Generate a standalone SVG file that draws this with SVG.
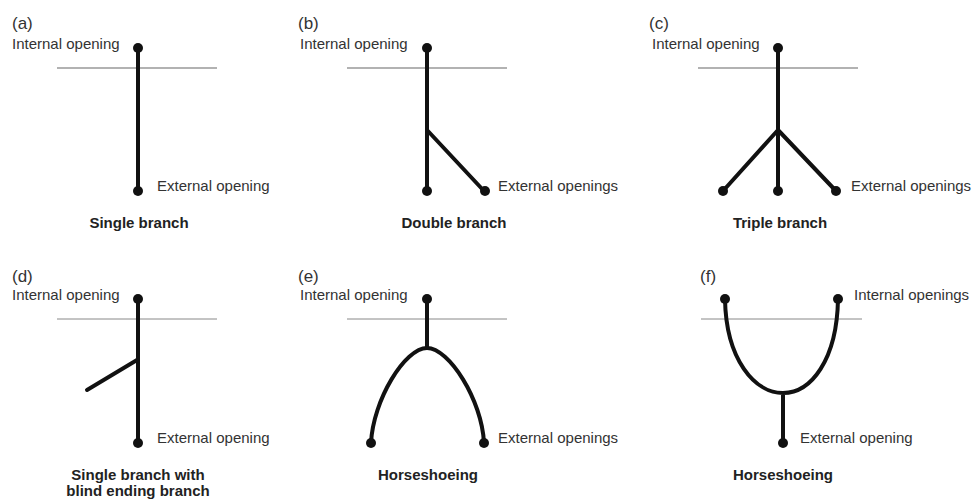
<svg xmlns="http://www.w3.org/2000/svg" width="975" height="499" viewBox="0 0 975 499">
<style>
.bg{fill:#fff}
.lbl{font-family:"Liberation Sans",Arial,sans-serif;font-size:15px;fill:#333}
.pl{font-family:"Liberation Sans",Arial,sans-serif;font-size:17px;fill:#333}
.ttl{font-family:"Liberation Sans",Arial,sans-serif;font-size:15px;font-weight:bold;fill:#222;text-anchor:middle}
.sk{fill:none;stroke:#111;stroke-width:4;stroke-linecap:round;stroke-linejoin:round}
.gl{stroke:#999;stroke-width:1.3}
.gl2{stroke:#888;stroke-width:1}
.dot{fill:#111}
</style>
<rect class="bg" width="975" height="499"/>

<g id="panel-a">
<text class="pl" x="12" y="29">(a)</text>
<text class="lbl" x="12" y="49">Internal opening</text>
<line class="gl" x1="57" y1="68" x2="217" y2="68"/>
<g id="a-tract"><path class="sk" d="M138 48 L138 191"/></g>
<circle class="dot" cx="138" cy="48" r="5"/>
<circle class="dot" cx="138" cy="191" r="5"/>
<text class="lbl" x="157" y="191">External opening</text>
<text class="ttl" x="139" y="228">Single branch</text>
</g>

<g id="panel-b">
<text class="pl" x="298" y="29">(b)</text>
<text class="lbl" x="300" y="49">Internal opening</text>
<line class="gl" x1="347" y1="68" x2="507" y2="68"/>
<g id="b-tract"><path class="sk" d="M427 48 L427 191 M427 130 L484 191"/></g>
<circle class="dot" cx="427" cy="48" r="5"/>
<circle class="dot" cx="427" cy="191" r="5"/>
<circle class="dot" cx="485" cy="191" r="5"/>
<text class="lbl" x="498" y="191">External openings</text>
<text class="ttl" x="454" y="228">Double branch</text>
</g>

<g id="panel-c">
<text class="pl" x="649" y="29">(c)</text>
<text class="lbl" x="652" y="49">Internal opening</text>
<line class="gl" x1="698" y1="68" x2="858" y2="68"/>
<g id="c-tract"><path class="sk" d="M778 48 L778 191 M778 130 L723 191 M778 130 L836 191"/></g>
<circle class="dot" cx="778" cy="48" r="5"/>
<circle class="dot" cx="723" cy="191" r="5"/>
<circle class="dot" cx="778" cy="191" r="5"/>
<circle class="dot" cx="836" cy="191" r="5"/>
<text class="lbl" x="851" y="191">External openings</text>
<text class="ttl" x="780" y="228">Triple branch</text>
</g>

<g id="panel-d">
<text class="pl" x="12" y="282">(d)</text>
<text class="lbl" x="12" y="300">Internal opening</text>
<line class="gl2" x1="57" y1="319" x2="217" y2="319"/>
<g id="d-tract"><path class="sk" d="M138 299 L138 443 M137 360 L87 390"/></g>
<circle class="dot" cx="138" cy="299" r="5"/>
<circle class="dot" cx="138" cy="443" r="5"/>
<text class="lbl" x="157" y="443">External opening</text>
<text class="ttl" x="138" y="480">Single branch with</text>
<text class="ttl" x="138" y="496">blind ending branch</text>
</g>

<g id="panel-e">
<text class="pl" x="298" y="282">(e)</text>
<text class="lbl" x="300" y="300">Internal opening</text>
<line class="gl2" x1="347" y1="319" x2="507" y2="319"/>
<g id="e-tract"><path class="sk" d="M427 299 L427 348 M371 443 C373 400 405 348 427 348 C449 348 482 400 484 443"/></g>
<circle class="dot" cx="427" cy="299" r="5"/>
<circle class="dot" cx="371" cy="443" r="5"/>
<circle class="dot" cx="484" cy="443" r="5"/>
<text class="lbl" x="498" y="443">External openings</text>
<text class="ttl" x="428" y="480">Horseshoeing</text>
</g>

<g id="panel-f">
<text class="pl" x="700" y="282">(f)</text>
<text class="lbl" x="854" y="300">Internal openings</text>
<line class="gl2" x1="701" y1="319" x2="862" y2="319"/>
<g id="f-tract"><path class="sk" d="M725 299 C726 360 755 393 783 393 C811 393 837 360 838 299 M783 393 L783 443"/></g>
<circle class="dot" cx="725" cy="299" r="5"/>
<circle class="dot" cx="838" cy="299" r="5"/>
<circle class="dot" cx="783" cy="443" r="5"/>
<text class="lbl" x="800" y="443">External opening</text>
<text class="ttl" x="783" y="480">Horseshoeing</text>
</g>
</svg>
